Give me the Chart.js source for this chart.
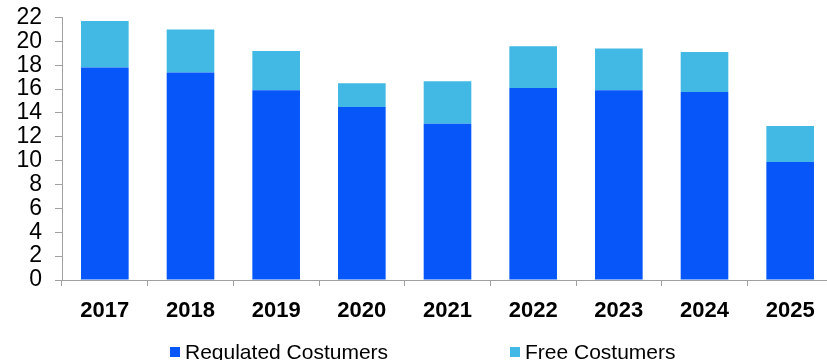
<!DOCTYPE html>
<html>
<head>
<meta charset="utf-8">
<script src="https://cdn.jsdelivr.net/npm/chart.js@4/dist/chart.umd.min.js"></script>
<style>
  html, body { margin:0; padding:0; background:#fff; overflow:hidden; }
  #wrap { width:827px; height:360px; overflow:hidden; }
  #box { width:840px; height:360px; position:relative; }
</style>
</head>
<body>
<div id="wrap"><div id="box"><canvas id="costChart"></canvas></div></div>
<script>
// data
const years = ['2017', '2018', '2019', '2020', '2021', '2022', '2023', '2024', '2025'];
const regulated = [17.8, 17.4, 15.9, 14.5, 13.1, 16.1, 15.9, 15.75, 9.9];
const free = [3.9, 3.6, 3.3, 2.0, 3.55, 3.5, 3.5, 3.35, 3.0];
const yTicks = [0, 2, 4, 6, 8, 10, 12, 14, 16, 18, 20, 22];

const REG_COLOR = '#0656f9';
const FREE_COLOR = '#42b9e5';
const AXIS_COLOR = '#a0a0a0';

// legend drawn by hand so the wide gap between the two items can be kept
const bottomLegend = {
  id: 'bottomLegend',
  afterDraw(chart) {
    const ctx = chart.ctx;
    const spots = [170, 510];
    ctx.save();
    ctx.font = '21px "Liberation Sans", Arial, sans-serif';
    ctx.textBaseline = 'alphabetic';
    ctx.textAlign = 'left';
    chart.data.datasets.forEach(function(ds, i){
      const x = spots[i];
      ctx.fillStyle = ds.backgroundColor;
      ctx.fillRect(x, 347, 10, 10);
      ctx.fillStyle = '#000';
      ctx.fillText(ds.label, x + 15, 359);
    });
    ctx.restore();
  }
};

new Chart(document.getElementById('costChart'), {
  type: 'bar',
  data: {
    labels: years,
    datasets: [
      { label: 'Regulated Costumers', data: regulated, backgroundColor: REG_COLOR, borderWidth: 0 },
      { label: 'Free Costumers', data: free, backgroundColor: FREE_COLOR, borderWidth: 0 }
    ]
  },
  options: {
    responsive: true,
    maintainAspectRatio: false,
    animation: false,
    devicePixelRatio: 1,
    layout: { padding: { top: 17.5, right: 7, bottom: 0, left: 0 } },
    datasets: { bar: { barPercentage: 0.556, categoryPercentage: 1 } },
    plugins: { legend: { display: false }, tooltip: { enabled: false } },
    scales: {
      x: {
        stacked: true,
        grid: { display: true, offset: true, drawOnChartArea: false, drawTicks: true, tickLength: 6, color: AXIS_COLOR },
        border: { display: true, color: AXIS_COLOR, width: 1 },
        ticks: { color: '#000', padding: 12, font: { family: '"Liberation Sans", Arial, sans-serif', size: 22, weight: 'bold' } },
        afterFit: function(scale){ scale.height = 80; scale.paddingLeft = 0; scale.paddingRight = 0; }
      },
      y: {
        stacked: true,
        min: 0,
        max: 22,
        afterBuildTicks: function(scale){ scale.ticks = yTicks.map(function(v){ return { value: v }; }); },
        grid: { display: true, drawOnChartArea: false, drawTicks: true, tickLength: 7, color: AXIS_COLOR },
        border: { display: true, color: AXIS_COLOR, width: 1 },
        ticks: { color: '#000', padding: 13, autoSkip: false, font: { family: '"Liberation Sans", Arial, sans-serif', size: 23 } },
        afterFit: function(scale){ scale.width = 62; scale.paddingTop = 0; scale.paddingBottom = 0; }
      }
    }
  },
  plugins: [bottomLegend]
});
</script>
</body>
</html>
